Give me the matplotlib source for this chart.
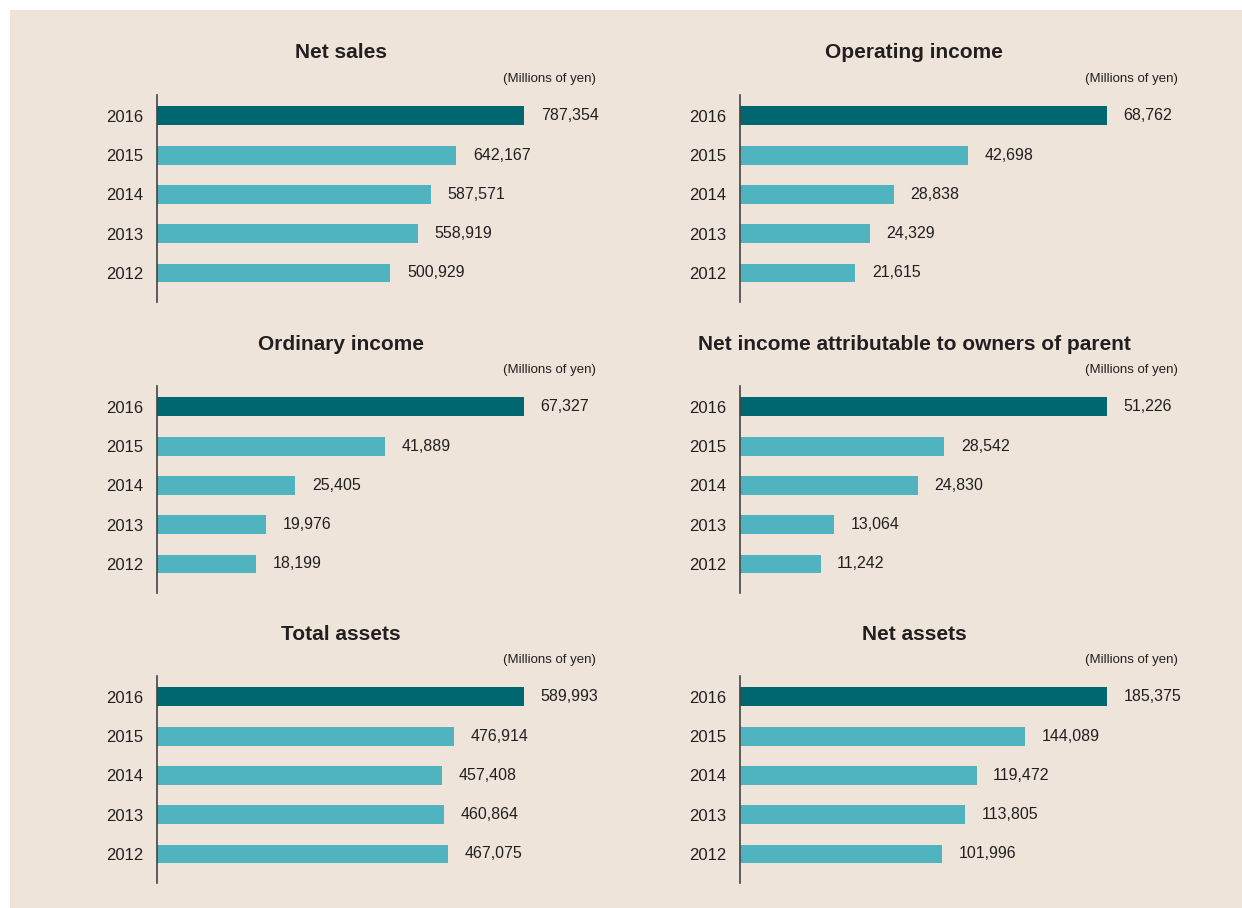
import matplotlib.pyplot as plt
from matplotlib.patches import Rectangle

years = ['2012', '2013', '2014', '2015', '2016']
net_sales = [500929, 558919, 587571, 642167, 787354]
operating_income = [21615, 24329, 28838, 42698, 68762]
ordinary_income = [18199, 19976, 25405, 41889, 67327]
net_income = [11242, 13064, 24830, 28542, 51226]
total_assets = [467075, 460864, 457408, 476914, 589993]
net_assets = [101996, 113805, 119472, 144089, 185375]

titles = ['Net sales', 'Operating income', 'Ordinary income',
          'Net income attributable to owners of parent', 'Total assets', 'Net assets']
series = [net_sales, operating_income, ordinary_income, net_income, total_assets, net_assets]
unit = '(Millions of yen)'

W, H = 1242, 908
bg = '#EEE4DA'
dark = '#006770'
light = '#4FB4BF'
txt = '#231F20'

plt.rcParams['font.family'] = ['Liberation Sans', 'DejaVu Sans']

fig = plt.figure(figsize=(W / 100, H / 100), dpi=100, facecolor='white')
fig.patches.append(Rectangle((10 / W, 0), 1 - 10 / W, 1 - 10 / H, transform=fig.transFigure,
                             facecolor=bg, edgecolor='none', zorder=-10))

col_left = [157, 740]
title_cx = [341, 914]
unit_rx = [596, 1178]
row_top = [95, 386, 676]
ax_w, ax_h = 440, 207

for i, (title, vals) in enumerate(zip(titles, series)):
    row, col = divmod(i, 2)
    x0 = col_left[col]
    y0 = row_top[row]
    ax = fig.add_axes([x0 / W, 1 - (y0 + ax_h) / H, ax_w / W, ax_h / H])
    ax.set_facecolor('none')
    ypos = list(range(len(years)))
    colors = [light] * (len(years) - 1) + [dark]
    ax.barh(ypos, vals, height=0.48, color=colors)
    ax.set_xlim(0, max(vals) * ax_w / 367)
    ax.set_ylim(-0.74, 4.53)
    for y, v in zip(ypos, vals):
        ax.annotate(f'{v:,}', (v, y), xytext=(12, 0), textcoords='offset points',
                    ha='left', va='center', fontsize=11.5, color=txt)
    ax.set_yticks(ypos)
    ax.set_yticklabels(years, fontsize=12, color=txt)
    ax.tick_params(axis='y', length=0, pad=10)
    ax.set_xticks([])
    for s in ['top', 'right', 'bottom']:
        ax.spines[s].set_visible(False)
    ax.spines['left'].set_color('#444444')
    ax.spines['left'].set_linewidth(1.2)

    fig.text(title_cx[col] / W, 1 - (y0 - 42) / H, title, ha='center', va='center',
             fontsize=15, fontweight='bold', color=txt)
    fig.text(unit_rx[col] / W, 1 - (y0 - 16) / H, unit, ha='right', va='center',
             fontsize=9.5, color=txt)

fig.savefig('out.png', dpi=100, facecolor=fig.get_facecolor())
